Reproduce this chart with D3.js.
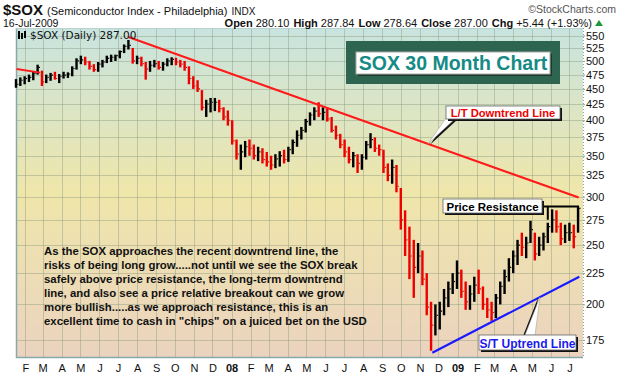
<!DOCTYPE html>
<html>
<head>
<meta charset="utf-8">
<script src="https://cdn.jsdelivr.net/npm/d3@7"></script>
<style>
  body { margin: 0; background: #fff; }
  svg { display: block; }
</style>
</head>
<body>
<div id="chart"></div>
<script>
// weekly bars, first week starts Monday 15-Jan-2007
const weekStart = '2007-01-15'
const highs = [467, 470, 472, 475, 480, 493, 482, 475, 478, 480, 476, 480, 479, 490, 505,
  510, 508, 500, 494, 498, 502, 510, 512, 512, 520, 532, 541, 525, 510, 508,
  498, 500, 502, 500, 498, 505, 507, 506, 502, 500, 490, 472, 465, 448, 432,
  435, 435, 432, 420, 415, 400, 372, 365, 370, 372, 365, 362, 360, 355, 350,
  352, 356, 358, 362, 372, 385, 390, 402, 412, 420, 428, 420, 418, 405, 392,
  380, 372, 362, 355, 352, 352, 370, 381, 375, 365, 358, 340, 345, 338, 310,
  285, 268, 255, 252, 245, 225, 202, 200, 202, 212, 218, 225, 236, 228, 218,
  215, 222, 228, 214, 205, 202, 208, 218, 228, 238, 245, 255, 262, 258, 274,
  262, 258, 262, 272, 286, 285, 272, 270, 272, 270, 288]
const lows = [452, 455, 458, 462, 465, 475, 455, 460, 464, 466, 460, 468, 469, 472, 484,
  494, 492, 484, 480, 480, 488, 496, 498, 500, 505, 515, 522, 495, 494, 490,
  466, 480, 488, 484, 482, 490, 492, 492, 488, 482, 458, 450, 445, 415, 405,
  412, 414, 412, 400, 392, 365, 345, 332, 348, 350, 345, 343, 340, 336, 332,
  334, 336, 340, 342, 352, 362, 372, 382, 392, 400, 405, 400, 398, 382, 372,
  360, 348, 340, 335, 328, 332, 345, 360, 355, 350, 328, 318, 315, 305, 265,
  240, 220, 205, 225, 215, 192, 168, 178, 182, 192, 198, 208, 212, 205, 196,
  196, 202, 208, 196, 190, 188, 190, 200, 208, 218, 225, 232, 240, 238, 252,
  236, 240, 245, 252, 262, 262, 250, 252, 254, 247, 262]
const closes = [458, 465, 468, 470, 477, 488, 462, 470, 474, 468, 472, 474, 476, 486, 500,
  502, 498, 490, 484, 494, 498, 505, 507, 510, 518, 528, 530, 500, 505, 495,
  485, 492, 495, 488, 494, 500, 503, 498, 494, 488, 468, 455, 450, 420, 425,
  428, 428, 418, 405, 400, 370, 352, 355, 362, 360, 350, 355, 345, 342, 338,
  346, 350, 345, 358, 368, 378, 385, 398, 408, 414, 410, 412, 402, 385, 378,
  365, 355, 345, 350, 340, 348, 365, 372, 360, 358, 335, 325, 335, 312, 275,
  255, 240, 230, 240, 220, 198, 185, 192, 195, 205, 212, 218, 225, 210, 202,
  208, 215, 212, 200, 196, 194, 205, 214, 222, 230, 240, 250, 248, 252, 265,
  242, 250, 258, 268, 275, 268, 256, 262, 262, 258, 287]

const yTicks = [175, 200, 225, 250, 275, 300, 325, 350, 375, 400, 425, 450, 475, 500, 525, 550]

// trend lines: [date, price]
const ltLine = [['2007-07-18', 547], ['2009-07-16', 299]]
const oldLine = [['2007-01-18', 485], ['2007-02-25', 478.5]]
const stLine = [['2008-11-21', 166.7], ['2009-07-17', 222]]
const resistPrice = 289
const resistDates = ['2009-05-17', '2009-05-27', '2009-07-15']
const resistFeet = [275, 278]

const commentary = [
  'As the SOX approaches the recent downtrend line, the',
  'risks of being long grow.....not until we see the SOX break',
  'safely above price resistance, the long-term downtrend',
  'line, and also see a price relative breakout can we grow',
  'more bullish.....as we approach resistance, this is an',
  'excellent time to cash in "chips" on a juiced bet on the USD'
]

const W = 620, H = 376
const plot = { left: 16, right: 583, top: 28, bottom: 357 }
const parse = d3.timeParse('%Y-%m-%d')
const font = 'Liberation Sans, Arial, sans-serif'

const svg = d3.select('#chart').append('svg')
  .attr('width', W).attr('height', H)
  .style('font-family', font)

const x = d3.scaleTime()
  .domain([new Date(2007, 0, 17), new Date(2009, 6, 23)])
  .range([plot.left, plot.right])
const y = d3.scaleLog()
  .domain([164.1, 566])
  .range([plot.bottom, plot.top])

// background gradient
const defs = svg.append('defs')
const grad = defs.append('linearGradient').attr('id', 'bg')
  .attr('x1', 0).attr('x2', 0).attr('y1', 0).attr('y2', 1)
grad.append('stop').attr('offset', '0%').attr('stop-color', '#c8e4df')
grad.append('stop').attr('offset', '50%').attr('stop-color', '#efe6aa')
grad.append('stop').attr('offset', '100%').attr('stop-color', '#ebd3bf')

svg.append('rect')
  .attr('x', plot.left).attr('y', plot.top)
  .attr('width', plot.right - plot.left).attr('height', plot.bottom - plot.top)
  .attr('fill', 'url(#bg)')

// grid
const months = x.ticks(d3.timeMonth.every(1))
svg.append('g').selectAll('line').data(months).join('line')
  .attr('x1', d => Math.round(x(d)) + 0.5).attr('x2', d => Math.round(x(d)) + 0.5)
  .attr('y1', plot.top).attr('y2', plot.bottom)
  .attr('stroke', '#8d9c80').attr('stroke-opacity', 0.45)
svg.append('g').selectAll('line').data(yTicks).join('line')
  .attr('x1', plot.left).attr('x2', plot.right)
  .attr('y1', d => Math.round(y(d)) + 0.5).attr('y2', d => Math.round(y(d)) + 0.5)
  .attr('stroke', '#8d9c80').attr('stroke-opacity', 0.45)

// borders
svg.append('path')
  .attr('d', `M${plot.left + 0.5},${plot.top}V${plot.bottom + 0.5}H${plot.right}`)
  .attr('fill', 'none').attr('stroke', '#86a9ab').attr('stroke-width', 1.5)
svg.append('line')
  .attr('x1', plot.left).attr('x2', plot.right).attr('y1', plot.top + 0.5).attr('y2', plot.top + 0.5)
  .attr('stroke', '#b9d3d0')
svg.append('line')
  .attr('x1', plot.right + 0.5).attr('x2', plot.right + 0.5).attr('y1', plot.top).attr('y2', plot.bottom)
  .attr('stroke', '#7fa6b0').attr('stroke-dasharray', '1,2')

// price bars (red drawn first, black on top)
const start = parse(weekStart)
const bars = highs.map((h, i) => ({
  date: d3.timeDay.offset(d3.timeWeek.offset(start, i), 2),
  high: h, low: lows[i], close: closes[i],
  up: i === 0 || closes[i] >= closes[i - 1]
})).sort((a, b) => a.up - b.up)
const barG = svg.append('g')
barG.selectAll('rect').data(bars).join('rect')
  .attr('x', d => x(d.date) - 1.2)
  .attr('width', 2.4)
  .attr('y', d => y(d.high))
  .attr('height', d => y(d.low) - y(d.high))
  .attr('fill', d => d.up ? '#000' : '#ee0000')
barG.selectAll('line').data(bars).join('line')
  .attr('x1', d => x(d.date) + 1.2).attr('x2', d => x(d.date) + 2.4)
  .attr('y1', d => y(d.close)).attr('y2', d => y(d.close))
  .attr('stroke', d => d.up ? '#000' : '#ee0000').attr('stroke-width', 1.2)

// trend lines
const line = d3.line().x(d => x(parse(d[0]))).y(d => y(d[1]))
svg.append('path').attr('d', line(oldLine))
  .attr('fill', 'none').attr('stroke', '#ff1a1a').attr('stroke-width', 2)
svg.append('path').attr('d', line(ltLine))
  .attr('fill', 'none').attr('stroke', '#ff1a1a').attr('stroke-width', 2.2)
svg.append('path').attr('d', line(stLine))
  .attr('fill', 'none').attr('stroke', '#1a1aff').attr('stroke-width', 2.2)

// price resistance bracket
const rx = resistDates.map(d => x(parse(d)))
svg.append('path')
  .attr('d', `M${rx[0]},${y(resistPrice)}H${rx[2]}V${y(resistFeet[1])}` +
             `M${rx[1]},${y(resistPrice)}V${y(resistFeet[0])}`)
  .attr('fill', 'none').attr('stroke', '#000').attr('stroke-width', 2)

// point along a line at pixel x
function onLine(pts, px) {
  const x0 = x(parse(pts[0][0])), x1 = x(parse(pts[1][0]))
  const y0 = y(pts[0][1]), y1 = y(pts[1][1])
  return [px, y0 + (y1 - y0) * (px - x0) / (x1 - x0)]
}

function callout(tip, base, shadowDx) {
  const pts = [[base[0], base[1]], [base[0] + 10, base[1]], tip]
  svg.append('polygon')
    .attr('points', pts.map(p => [p[0] + shadowDx, p[1] + 1].join(',')).join(' '))
    .attr('fill', '#111')
  svg.append('polygon')
    .attr('points', pts.map(p => p.join(',')).join(' '))
    .attr('fill', '#fff').attr('stroke', '#999').attr('stroke-width', 0.5)
}

function labelBox(bx, by, bw, bh, text, color, size) {
  svg.append('rect').attr('x', bx + 2).attr('y', by + 2).attr('width', bw).attr('height', bh)
    .attr('fill', '#111')
  svg.append('rect').attr('x', bx).attr('y', by).attr('width', bw).attr('height', bh)
    .attr('fill', '#fff').attr('stroke', '#666').attr('stroke-width', 0.8)
  svg.append('text').attr('x', bx + bw / 2).attr('y', by + bh - 2.5)
    .attr('text-anchor', 'middle')
    .style('font-weight', 'bold').style('font-size', size + 'px')
    .attr('fill', color).text(text)
}

callout(onLine(ltLine, 428), [446, 118], 2)
labelBox(446, 106, 114, 13, 'L/T Downtrend Line', '#ee0000', 11.2)

callout(onLine(stLine, 540), [525, 335], -2)
labelBox(479, 335, 97, 15, 'S/T Uptrend Line', '#1a1aee', 12)

labelBox(443, 199, 99, 14, 'Price Resistance', '#000', 11.5)

// title box
svg.append('rect').attr('x', 346).attr('y', 41).attr('width', 214).attr('height', 43)
  .attr('fill', '#2d6550')
svg.append('rect').attr('x', 358).attr('y', 54).attr('width', 194).attr('height', 22)
  .attr('fill', '#1a3a2c')
svg.append('rect').attr('x', 356).attr('y', 52).attr('width', 194).attr('height', 22)
  .attr('fill', '#fff').attr('stroke', '#aaa').attr('stroke-width', 1)
svg.append('text').attr('x', 453).attr('y', 70)
  .attr('text-anchor', 'middle')
  .style('font-weight', 'bold').style('font-size', '19.5px')
  .attr('fill', '#168a86').text('SOX 30 Month Chart')

// commentary
svg.append('g').selectAll('text').data(commentary).join('text')
  .attr('x', 44).attr('y', (d, i) => 255 + i * 14)
  .style('font-weight', 'bold').style('font-size', '11.4px')
  .attr('fill', '#111').text(d => d)

// y axis
const yAxis = svg.append('g')
  .attr('transform', `translate(${plot.right},0)`)
  .call(d3.axisRight(y).tickValues(yTicks).tickFormat(d3.format('d')).tickSize(2))
yAxis.select('.domain').remove()
yAxis.selectAll('.tick line').attr('stroke', '#7fa6b0')
yAxis.selectAll('.tick text').attr('x', 3)
  .style('font-family', font).style('font-size', '11px').attr('fill', '#111')

// x axis
const xAxis = svg.append('g')
  .attr('transform', `translate(0,${plot.bottom})`)
  .call(d3.axisBottom(x).tickValues(months).tickSize(0)
    .tickFormat(d => d.getMonth() === 0 ? d3.timeFormat('%y')(d) : d3.timeFormat('%b')(d)[0]))
xAxis.select('.domain').remove()
xAxis.selectAll('.tick text').attr('dy', 0).attr('y', 15)
  .style('font-family', font).style('font-size', '11px').attr('fill', '#111')
  .style('font-weight', d => d.getMonth() === 0 ? 'bold' : 'normal')

// legend in plot
const lg = svg.append('g')
lg.append('rect').attr('x', 18).attr('y', 31).attr('width', 2).attr('height', 8).attr('fill', '#000')
lg.append('rect').attr('x', 21).attr('y', 33).attr('width', 2).attr('height', 6).attr('fill', '#000')
lg.append('rect').attr('x', 24).attr('y', 31).attr('width', 2).attr('height', 7).attr('fill', '#000')
lg.append('text').attr('x', 30).attr('y', 39)
  .style('font-family', 'DejaVu Sans, sans-serif').style('font-size', '10.5px')
  .attr('fill', '#111').text('$SOX (Daily) 287.00')

// header
const h1 = svg.append('text').attr('x', 3).attr('y', 15).attr('fill', '#111')
h1.append('tspan').style('font-weight', 'bold').style('font-size', '15px').text('$SOX')
h1.append('tspan').attr('dx', 4).style('font-size', '11px').text('(Semiconductor Index - Philadelphia)')
h1.append('tspan').attr('dx', 4).style('font-size', '10px').text('INDX')

svg.append('text').attr('x', 616).attr('y', 13).attr('text-anchor', 'end')
  .style('font-size', '10.5px').attr('fill', '#555').text('\u00a9StockCharts.com')

svg.append('text').attr('x', 3).attr('y', 27).style('font-size', '10.5px')
  .attr('fill', '#111').text('16-Jul-2009')

const h2 = svg.append('text').attr('x', 592).attr('y', 27).attr('text-anchor', 'end')
  .style('font-size', '11px').attr('fill', '#111')
const stats = [['Open', '280.10'], ['High', '287.84'], ['Low', '278.64'], ['Close', '287.00'], ['Chg', '+5.44 (+1.93%)']]
stats.forEach((s, i) => {
  h2.append('tspan').attr('dx', i ? 4 : 0).style('font-weight', 'bold').text(s[0])
  h2.append('tspan').attr('dx', 3).text(s[1])
})
svg.append('path').attr('d', 'M595,26 L599,20 L603,26 Z').attr('fill', '#1a9a3a')
</script>
</body>
</html>
